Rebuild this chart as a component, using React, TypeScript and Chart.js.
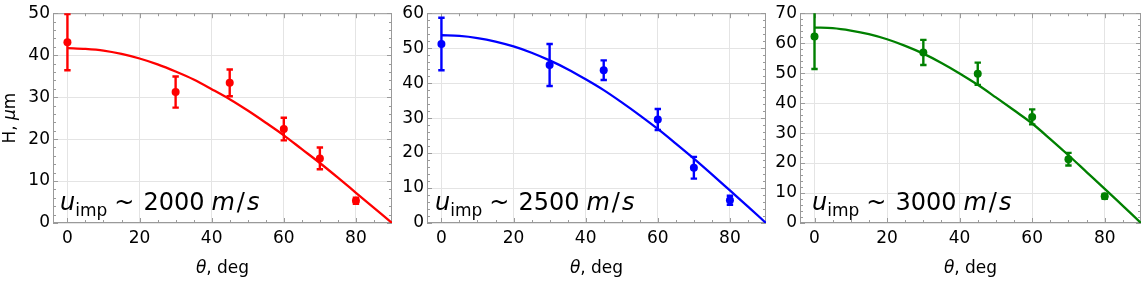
import React, { useEffect, useRef } from 'react';
import { Chart, registerables } from 'chart.js';

Chart.register(...registerables);

// ---- data ----
const angles = [0, 30, 45, 60, 70, 80];

const h2000 = [43.1, 31.2, 33.4, 22.4, 15.4, 5.3];
const err2000 = [6.7, 3.7, 3.2, 2.7, 2.6, 0.7];
const h2500 = [51.2, 45.2, 43.7, 29.6, 15.8, 6.5];
const err2500 = [7.5, 6.0, 2.8, 3.0, 3.1, 1.3];
const h3000 = [62.2, 56.9, 49.8, 35.4, 21.3, 8.9];
const err3000 = [10.8, 4.2, 3.7, 2.5, 2.1, 0.8];

const fitAngles = [0, 5, 10, 15, 20, 25, 30, 35, 40, 45, 50, 55, 60, 65, 70, 75, 80, 85, 90];
const fit2000 = [41.7, 41.5, 41.1, 40.3, 39.2, 37.8, 36.1, 34.2, 31.9, 29.5, 26.8, 23.9, 20.9, 17.6, 14.3, 10.8, 7.2, 3.6, 0];
const fit2500 = [53.7, 53.5, 52.9, 51.9, 50.5, 48.7, 46.5, 44.0, 41.1, 38.0, 34.5, 30.8, 26.9, 22.7, 18.4, 13.9, 9.3, 4.7, 0];
const fit3000 = [65.2, 65.0, 64.2, 63.0, 61.3, 59.1, 56.5, 53.4, 49.9, 46.1, 41.9, 37.6, 33.2, 28.0, 22.6, 17.0, 11.4, 5.7, 0];

const speedLabels = ['2000', '2500', '3000'];
const yMaxes = [50, 60, 70];
const xMin = -4;
const xMax = 90;
const xMajorStep = 20;
const xMinorStep = 5;
const yMajorStep = 10;
const yMinorStep = 2;

// ---- styling / layout ----
const FONT = '"DejaVu Sans", "Liberation Sans", sans-serif';
const FRAME = '#9a9a9a';
const GRID = '#e4e4e4';
const LABEL_SIZE = 17;

const PANELS = [
  { left: 0, width: 396, yw: 53, padRight: 3, textOff: 7, color: 'rgb(255,0,0)', yTitle: true, vals: h2000, errs: err2000, fit: fit2000, label: speedLabels[0], yMax: yMaxes[0] },
  { left: 396, width: 374, yw: 31, padRight: 2, textOff: 8, color: 'rgb(0,0,255)', yTitle: false, vals: h2500, errs: err2500, fit: fit2500, label: speedLabels[1], yMax: yMaxes[1] },
  { left: 772, width: 374, yw: 28, padRight: 5, textOff: 12, color: 'rgb(0,128,0)', yTitle: false, vals: h3000, errs: err3000, fit: fit3000, label: speedLabels[2], yMax: yMaxes[2] },
];

function line(ctx: CanvasRenderingContext2D, x1: number, y1: number, x2: number, y2: number) {
  ctx.beginPath();
  ctx.moveTo(x1, y1);
  ctx.lineTo(x2, y2);
  ctx.stroke();
}

function makePlugin(p: any, idx: number) {
  return {
    id: 'panelDecor' + idx,
    beforeDatasetsDraw(chart: any) {
      const { ctx, chartArea: a, scales } = chart;
      const x = scales.x;
      const y = scales.y;
      ctx.save();
      // inward ticks on all four sides
      ctx.strokeStyle = FRAME;
      ctx.lineWidth = 1;
      for (let v = 0; v <= xMax; v += xMinorStep) {
        const px = Math.round(x.getPixelForValue(v)) + 0.5;
        if (px < a.left || px > a.right) continue;
        const len = v % xMajorStep === 0 ? 5 : 3;
        line(ctx, px, a.bottom, px, a.bottom - len);
        line(ctx, px, a.top, px, a.top + len);
      }
      for (let v = 0; v <= p.yMax; v += yMinorStep) {
        const py = Math.round(y.getPixelForValue(v)) + 0.5;
        const len = v % yMajorStep === 0 ? 5 : 3;
        line(ctx, a.left, py, a.left + len, py);
        line(ctx, a.right, py, a.right - len, py);
      }
      ctx.strokeRect(a.left + 0.5, a.top + 0.5, a.right - a.left - 1, a.bottom - a.top - 1);

      // error bars
      ctx.beginPath();
      ctx.rect(a.left, a.top, a.right - a.left, a.bottom - a.top);
      ctx.clip();
      ctx.strokeStyle = p.color;
      ctx.lineWidth = 2.4;
      angles.forEach((t, i) => {
        const px = x.getPixelForValue(t);
        const yt = y.getPixelForValue(p.vals[i] + p.errs[i]);
        const yb = y.getPixelForValue(p.vals[i] - p.errs[i]);
        line(ctx, px, yt, px, yb);
        line(ctx, px - 3.2, yt, px + 3.2, yt);
        line(ctx, px - 3.2, yb, px + 3.2, yb);
      });
      ctx.restore();
    },
    afterDraw(chart: any) {
      const { ctx, chartArea: a } = chart;
      ctx.save();
      ctx.fillStyle = '#000';
      ctx.textBaseline = 'alphabetic';
      ctx.textAlign = 'left';

      // annotation: u_imp ~ NNNN m/s
      let xx = a.left + p.textOff;
      const base = a.bottom - 13;
      ctx.font = 'italic 24px ' + FONT;
      ctx.fillText('u', xx, base);
      xx += ctx.measureText('u').width;
      ctx.font = '17px ' + FONT;
      ctx.fillText('imp', xx, base + 6);
      xx += ctx.measureText('imp').width + 7;
      ctx.font = '24px ' + FONT;
      ctx.fillText('~', xx, base);
      xx += ctx.measureText('~').width + 9;
      ctx.fillText(p.label, xx, base);
      xx += ctx.measureText(p.label).width + 7;
      ctx.font = 'italic 24px ' + FONT;
      ctx.fillText('m', xx, base);
      xx += ctx.measureText('m').width + 2;
      ctx.font = '24px ' + FONT;
      ctx.fillText('/', xx, base);
      xx += ctx.measureText('/').width + 2;
      ctx.font = 'italic 24px ' + FONT;
      ctx.fillText('s', xx, base);

      // x axis title: θ, deg
      ctx.font = 'italic ' + LABEL_SIZE + 'px ' + FONT;
      const wTh = ctx.measureText('θ').width;
      ctx.font = LABEL_SIZE + 'px ' + FONT;
      const wRest = ctx.measureText(', deg').width;
      let tx = (a.left + a.right) / 2 - (wTh + wRest) / 2;
      ctx.font = 'italic ' + LABEL_SIZE + 'px ' + FONT;
      ctx.fillText('θ', tx, 273);
      tx += wTh;
      ctx.font = LABEL_SIZE + 'px ' + FONT;
      ctx.fillText(', deg', tx, 273);

      // y axis title: H, μm
      if (p.yTitle) {
        ctx.translate(15, (a.top + a.bottom) / 2);
        ctx.rotate(-Math.PI / 2);
        ctx.font = LABEL_SIZE + 'px ' + FONT;
        const w1 = ctx.measureText('H, ').width;
        ctx.font = 'italic ' + LABEL_SIZE + 'px ' + FONT;
        const w2 = ctx.measureText('μ').width;
        ctx.font = LABEL_SIZE + 'px ' + FONT;
        const w3 = ctx.measureText('m').width;
        let yx = -(w1 + w2 + w3) / 2;
        ctx.fillText('H, ', yx, 0);
        yx += w1;
        ctx.font = 'italic ' + LABEL_SIZE + 'px ' + FONT;
        ctx.fillText('μ', yx, 0);
        yx += w2;
        ctx.font = LABEL_SIZE + 'px ' + FONT;
        ctx.fillText('m', yx, 0);
      }
      ctx.restore();
    },
  };
}

function buildConfig(p: any, idx: number): any {
  return {
    type: 'scatter',
    data: {
      datasets: [
        {
          label: 'measured',
          data: angles.map((t, i) => ({ x: t, y: p.vals[i] })),
          pointRadius: 4,
          pointBackgroundColor: p.color,
          pointBorderWidth: 0,
          showLine: false,
        },
        {
          label: 'fit',
          data: fitAngles.map((t, i) => ({ x: t, y: p.fit[i] })),
          showLine: true,
          pointRadius: 0,
          borderColor: p.color,
          borderWidth: 2.3,
          cubicInterpolationMode: 'monotone',
          fill: false,
        },
      ],
    },
    options: {
      animation: false,
      responsive: false,
      events: [],
      layout: { padding: { top: 13, right: p.padRight, left: 0, bottom: 0 } },
      plugins: { legend: { display: false }, tooltip: { enabled: false }, title: { display: false } },
      scales: {
        x: {
          type: 'linear',
          min: xMin,
          max: xMax,
          afterFit: (s: any) => { s.height = 58; },
          ticks: {
            stepSize: xMajorStep,
            includeBounds: false,
            maxRotation: 0,
            autoSkip: false,
            padding: 5,
            color: '#000',
            font: { family: FONT, size: LABEL_SIZE },
          },
          grid: { color: GRID, lineWidth: 1, drawTicks: false },
          border: { display: false },
        },
        y: {
          type: 'linear',
          min: 0,
          max: p.yMax,
          afterFit: (s: any) => { s.width = p.yw; },
          ticks: {
            stepSize: yMajorStep,
            includeBounds: false,
            padding: 3,
            color: '#000',
            font: { family: FONT, size: LABEL_SIZE },
          },
          grid: { color: GRID, lineWidth: 1, drawTicks: false },
          border: { display: false },
        },
      },
    },
    plugins: [makePlugin(p, idx)],
  };
}

export default function App() {
  const r0 = useRef<HTMLCanvasElement>(null);
  const r1 = useRef<HTMLCanvasElement>(null);
  const r2 = useRef<HTMLCanvasElement>(null);
  const refs = [r0, r1, r2];

  useEffect(() => {
    const charts = PANELS.map((p, i) => new Chart(refs[i].current as HTMLCanvasElement, buildConfig(p, i)));
    return () => charts.forEach((c) => c.destroy());
  }, []);

  return (
    <div style={{ position: 'absolute', left: 0, top: 0, width: 1146, height: 281, background: '#fff' }}>
      {PANELS.map((p, i) => (
        <canvas
          key={i}
          ref={refs[i]}
          width={p.width}
          height={281}
          style={{ position: 'absolute', left: p.left, top: 0, width: p.width, height: 281 }}
        />
      ))}
    </div>
  );
}
